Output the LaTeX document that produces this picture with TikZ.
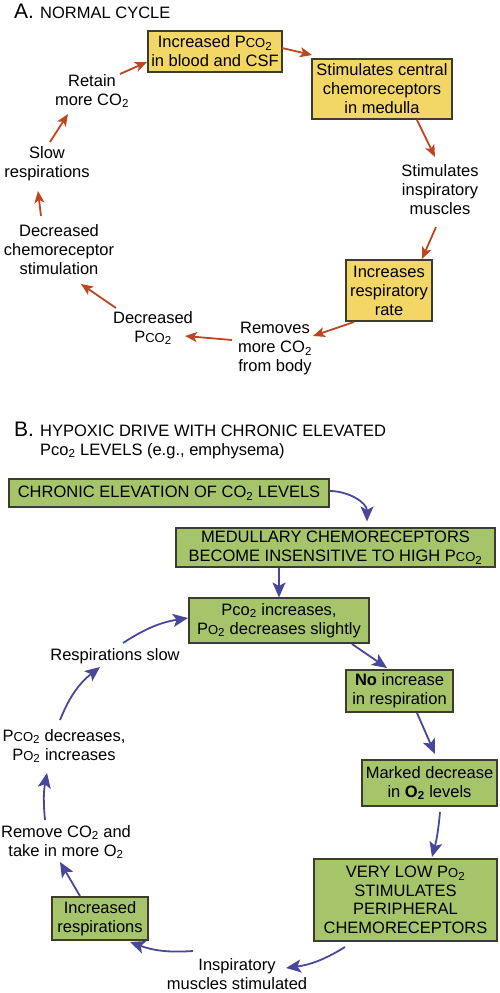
\documentclass[tikz,border=0pt]{standalone}
\usepackage{fontspec}
\setmainfont{Liberation Sans}
\usetikzlibrary{arrows.meta}
\definecolor{yel}{HTML}{F2D766}
\definecolor{grn}{HTML}{A6C46A}
\definecolor{bord}{HTML}{3D3D2D}
\definecolor{orA}{HTML}{BE461E}
\definecolor{blB}{HTML}{48489A}
\newcommand\smc[1]{{\fontsize{13}{13}\selectfont #1}}
\newcommand\pcoTwo{P\smc{CO}\textsubscript{2}}
\newcommand\poTwo{P\smc{O}\textsubscript{2}}
\begin{document}
\begin{tikzpicture}[x=1pt,y=1pt,
  font=\fontsize{16.5}{19}\selectfont,
  ybox/.style={draw=bord, line width=1.1pt, fill=yel, inner sep=0pt, align=center},
  gbox/.style={draw=bord, line width=1.1pt, fill=grn, inner sep=0pt, align=center},
  txt/.style={align=center, inner sep=1pt},
  ttl/.style={anchor=base west, inner sep=0pt},
  arrA/.style={draw=orA, line width=1.8pt, -{Stealth[length=12pt,width=10pt,inset=3pt]}},
  arrB/.style={draw=blB, line width=1.8pt, -{Stealth[length=15pt,width=13pt,inset=3.5pt]}}]
\useasboundingbox (0,0) rectangle (499,-993);

% ---------- A ----------
\node[ttl] (tA) at (14,-18) {\fontsize{21}{21}\selectfont A.};
\node[ttl] (tAtext) at (40,-18) {NORMAL CYCLE};

\node[ybox, minimum width=134, minimum height=41] (a1) at (215,-51.5) {Increased \pcoTwo\\in blood and CSF};
\node[ybox, minimum width=140, minimum height=60] (a2) at (382,-89) {Stimulates central\\chemoreceptors\\in medulla};
\node[txt] (ainsp) at (440,-190) {Stimulates\\inspiratory\\muscles};
\node[ybox, minimum width=86, minimum height=61] (a3) at (389,-290.5) {Increases\\respiratory\\rate};
\node[txt] (arem) at (275,-349) {Removes\\more CO\textsubscript{2}\\from body};
\node[txt] (adpco) at (153,-328) {Decreased\\\pcoTwo};
\node[txt] (adch) at (59,-250) {Decreased\\chemoreceptor\\stimulation};
\node[txt] (aslow) at (47,-164) {Slow\\respirations};
\node[txt] (aret) at (92,-91) {Retain\\more CO\textsubscript{2}};

\draw[arrA] ([shift={(28,17)}]aret.center) -- ([shift={(-68,-10.5)}]a1.center);
\draw[arrA] ([shift={(3,22)}]aslow.center) -- ([shift={(-24,-23)}]aret.center);
\draw[arrA] ([shift={(-18,34)}]adch.center) -- ([shift={(-9,-27)}]aslow.center);
\draw[arrA] ([shift={(-37,20)}]adpco.center) -- ([shift={(22,-34)}]adch.center);
\draw[arrA] ([shift={(-43,9)}]arem.center) -- ([shift={(32,-8)}]adpco.center);
\draw[arrA] ([shift={(-35,-31.5)}]a3.center) -- ([shift={(38,13)}]arem.center);
\draw[arrA] ([shift={(-4,-37)}]ainsp.center) -- ([shift={(33,31.5)}]a3.center);
\draw[arrA] ([shift={(35,-31)}]a2.center) -- ([shift={(-5,33)}]ainsp.center);
\draw[arrA] ([shift={(67,3.5)}]a1.center) -- ([shift={(-70,34)}]a2.center);

% ---------- B ----------
\node[ttl] (tB) at (14,-436) {\fontsize{21}{21}\selectfont B.};
\node[ttl] (tBtext1) at (40,-436) {HYPOXIC DRIVE WITH CHRONIC ELEVATED};
\node[ttl] (tBtext2) at (40,-455) {Pco\textsubscript{2} LEVELS (e.g., emphysema)};

\node[gbox, minimum width=320, minimum height=28] (b1) at (169,-493) {CHRONIC ELEVATION OF CO\textsubscript{2} LEVELS};
\node[gbox, minimum width=319, minimum height=39] (b2) at (335.5,-547.5) {MEDULLARY CHEMORECEPTORS\\BECOME INSENSITIVE TO HIGH \pcoTwo};
\node[gbox, minimum width=180, minimum height=45] (b3) at (279,-620.5) {Pco\textsubscript{2} increases,\\\poTwo{} decreases slightly};
\node[gbox, minimum width=107, minimum height=42] (b4) at (399.5,-691) {\textbf{No} increase\\in respiration};
\node[gbox, minimum width=135, minimum height=46] (b5) at (429.5,-783) {Marked decrease\\in \textbf{O\textsubscript{2}} levels};
\node[gbox, minimum width=183, minimum height=82, font=\fontsize{16.5}{18.5}\selectfont] (b6) at (405.5,-900) {VERY LOW \poTwo\\STIMULATES\\PERIPHERAL\\CHEMORECEPTORS};
\node[txt] (binsp) at (237,-974) {Inspiratory\\muscles stimulated};
\node[gbox, minimum width=96, minimum height=43] (b7) at (100,-918.5) {Increased\\respirations};
\node[txt] (brem) at (66,-842) {Remove CO\textsubscript{2} and\\take in more O\textsubscript{2}};
\node[txt] (bpdec) at (64,-746) {\pcoTwo{} decreases,\\\poTwo{} increases};
\node[txt] (bslow) at (115,-656) {Respirations slow};

\draw[arrB] ([yshift=2]b1.east) to[out=0,in=90] ([shift={(31.5,6)}]b2.north);
\draw[arrB] (b3.north |- b2.south) -- (b3.north);
\draw[arrB] ([shift={(73,-23.5)}]b3.center) -- ([shift={(-12.5,23)}]b4.center);
\draw[arrB] ([shift={(17.5,-22)}]b4.center) -- ([shift={(5.5,29)}]b5.center);
\draw[arrB] ([shift={(10.5,-29)}]b5.center) to[bend left=5] ([shift={(26.5,43)}]b6.center);
\draw[arrB] ([shift={(-60.5,-47)}]b6.center) to[bend left=12] ([shift={(49,6)}]binsp.center);
\draw[arrB] ([shift={(-44,23)}]binsp.center) to[bend left=12] ([shift={(30,-23.5)}]b7.center);
\draw[arrB] ([shift={(-20,22.5)}]b7.center) -- ([shift={(-6,-20)}]brem.center);
\draw[arrB] ([shift={(-21,22)}]brem.center) to[bend left=8] ([shift={(-17,-27)}]bpdec.center);
\draw[arrB] ([shift={(-4,26)}]bpdec.center) to[bend left=15] ([shift={(-15,-11)}]bslow.center);
\draw[arrB] ([shift={(8,13)}]bslow.center) to[bend left=12] ([shift={(-91,2.5)}]b3.center);
\end{tikzpicture}
\end{document}
